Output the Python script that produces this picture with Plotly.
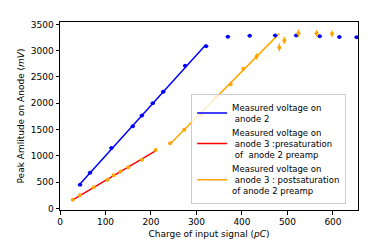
import numpy as np
import plotly.graph_objects as go

# Anode 2 (blue) measurements
blue_x = [44, 66, 113, 160, 180, 204, 227, 275, 321, 369, 417, 473, 519, 571, 614, 652]
blue_y = [447, 678, 1150, 1563, 1765, 2000, 2218, 2715, 3084, 3265, 3284, 3290, 3290, 3273, 3260, 3255]
blue_xerr = [5] * len(blue_x)
blue_linear_n = 9  # points in the linear regime

# Anode 3 presaturation (drawn with red fit)
pre_x = [28, 44, 74, 105, 118, 133, 150, 180, 210]
pre_y = [163, 248, 400, 545, 630, 703, 781, 927, 1109]
pre_yerr = [15] * len(pre_x)

# Anode 3 postsaturation (orange)
post_x = [242, 273, 310, 343, 375, 403, 432, 482, 493, 524, 564, 598]
post_y = [1240, 1496, 1787, 2120, 2360, 2654, 2890, 3060, 3195, 3330, 3330, 3322]
post_yerr = [20, 20, 20, 25, 25, 30, 60, 75, 70, 70, 60, 60]
post_fit_n = 7   # points used for fit
post_line_n = 8  # x extent of drawn fit

BLUE = "#0000ff"
RED = "#ff0000"
ORANGE = "#ffa500"

def fit_line(xs, ys, xr):
    m, c = np.polyfit(np.array(xs, float), np.array(ys, float), 1)
    xr = np.array([min(xr), max(xr)], float)
    return xr, m * xr + c

fig = go.Figure()

# fit lines (legend entries)
bx, by = fit_line(blue_x[:blue_linear_n], blue_y[:blue_linear_n], blue_x[:blue_linear_n])
fig.add_trace(go.Scatter(x=bx, y=by, mode="lines", line=dict(color=BLUE, width=1.5),
                         name="Measured voltage on<br>\u00a0anode 2"))
rx, ry = fit_line(pre_x, pre_y, pre_x)
fig.add_trace(go.Scatter(x=rx, y=ry, mode="lines", line=dict(color=RED, width=1.5),
                         name="Measured voltage on<br>\u00a0anode 3 :presaturation<br>\u00a0of \u00a0anode 2 preamp"))
ox, oy = fit_line(post_x[:post_fit_n], post_y[:post_fit_n], post_x[:post_line_n])
fig.add_trace(go.Scatter(x=ox, y=oy, mode="lines", line=dict(color=ORANGE, width=1.5),
                         name="Measured voltage on<br>\u00a0anode 3 : postsaturation<br>of anode 2 preamp"))

# data points
fig.add_trace(go.Scatter(x=blue_x, y=blue_y, mode="markers", showlegend=False,
                         marker=dict(color=BLUE, size=4),
                         error_x=dict(type="data", array=blue_xerr, color=BLUE, thickness=1.2, width=0)))
fig.add_trace(go.Scatter(x=pre_x, y=pre_y, mode="markers", showlegend=False,
                         marker=dict(color=ORANGE, size=4),
                         error_y=dict(type="data", array=pre_yerr, color=ORANGE, thickness=1.2, width=0)))
fig.add_trace(go.Scatter(x=post_x, y=post_y, mode="markers", showlegend=False,
                         marker=dict(color=ORANGE, size=4),
                         error_y=dict(type="data", array=post_yerr, color=ORANGE, thickness=1.2, width=0)))

axis_common = dict(showline=True, linecolor="black", linewidth=1, mirror=True,
                   ticks="outside", ticklen=3.5, tickwidth=1, tickcolor="black",
                   showgrid=False, zeroline=False,
                   tickfont=dict(family="DejaVu Sans", size=9, color="black"))

fig.update_layout(
    width=389, height=242,
    margin=dict(l=49, r=39, t=13, b=32),
    paper_bgcolor="white", plot_bgcolor="white",
    font=dict(family="DejaVu Sans", size=9, color="black"),
    xaxis=dict(range=[0, 655], tickvals=[0, 100, 200, 300, 400, 500, 600],
               title=dict(text="Charge of input signal (<i>pC</i>)", standoff=4,
                          font=dict(size=9)), **axis_common),
    yaxis=dict(range=[-31, 3545], tickvals=[0, 500, 1000, 1500, 2000, 2500, 3000, 3500],
               title=dict(text="Peak Amlitude on Anode (<i>mV</i>)", standoff=4,
                          font=dict(size=9)), **axis_common),
    legend=dict(x=0.44, y=0.03, xanchor="left", yanchor="bottom",
                bgcolor="rgba(255,255,255,0.8)", bordercolor="#cccccc", borderwidth=1,
                font=dict(size=8.5), tracegroupgap=0, itemwidth=30),
    showlegend=True,
)

fig.write_html("out.html")
